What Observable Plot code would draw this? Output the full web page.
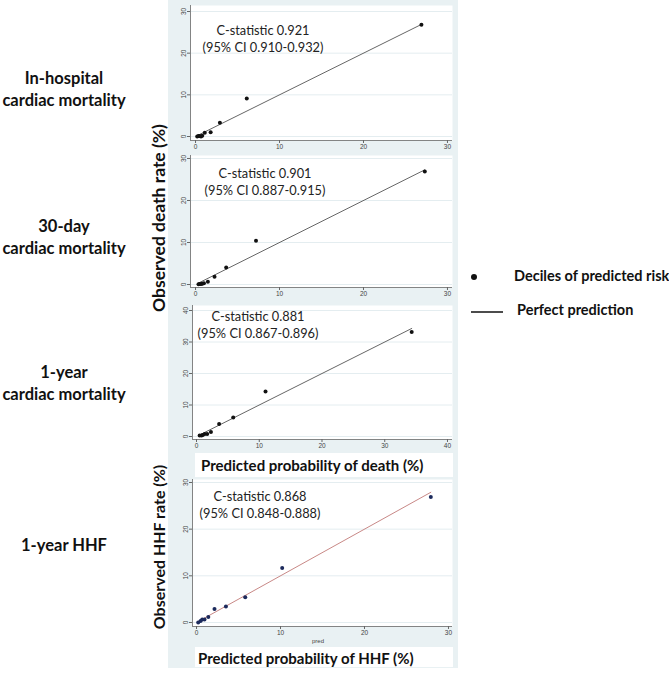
<!DOCTYPE html>
<html><head><meta charset="utf-8">
<script src="https://cdn.jsdelivr.net/npm/d3@7"></script>
<script src="https://cdn.jsdelivr.net/npm/@observablehq/plot@0.6"></script>
<style>
body{margin:0;background:#fff;}
#wrap{position:relative;width:669px;height:673px;font-family:Lato,"Open Sans",sans-serif;overflow:hidden;}
.abs{position:absolute;}
.bg{left:168px;top:0;width:290px;height:668px;background:#e9f1f3;}
.row{font-weight:bold;font-size:16.5px;color:#111;text-align:center;width:128px;left:0;line-height:22px;white-space:pre;}
.ytitle{font-weight:bold;color:#111;white-space:nowrap;transform:translate(-50%,-50%) rotate(-90deg);}
.xbox{left:195px;width:258px;background:#fff;}
.xtitle{font-weight:bold;font-size:15px;color:#111;white-space:nowrap;}
.cstat{font-size:12.8px;color:#222;text-align:center;line-height:17px;white-space:pre;transform:translateX(-50%);}
.leg{font-weight:bold;font-size:14.5px;color:#111;white-space:nowrap;}
.pred{font-size:6px;color:#444;transform:translateX(-50%);font-family:"Liberation Sans",Arial,sans-serif;}
.panel{left:168px;}
</style></head>
<body><div id="wrap"></div>
<script>
// ---- data ----
const outcomes = ["In-hospital\ncardiac mortality", "30-day\ncardiac mortality", "1-year\ncardiac mortality", "1-year HHF"];
const cstat = ["0.921", "0.901", "0.881", "0.868"];
const ci95 = ["0.910-0.932", "0.887-0.915", "0.867-0.896", "0.848-0.888"];
const pred1 = [0.2, 0.35, 0.5, 0.65, 0.8, 1.1, 1.8, 2.9, 6.1, 26.9];
const obs1  = [0.0, 0.1, 0.1, 0.0, 0.2, 0.9, 1.0, 3.3, 9.1, 26.8];
const pred2 = [0.35, 0.5, 0.65, 0.8, 1.0, 1.47, 2.26, 3.65, 7.2, 27.3];
const obs2  = [0.05, 0.1, 0.1, 0.2, 0.3, 0.64, 1.83, 4.05, 10.4, 26.9];
const pred3 = [0.5, 0.8, 1.0, 1.3, 1.7, 2.3, 3.6, 5.85, 11.0, 34.3];
const obs3  = [0.3, 0.3, 0.5, 0.8, 0.8, 1.4, 4.0, 6.0, 14.3, 33.2];
const pred4 = [0.2, 0.48, 0.68, 0.95, 1.4, 2.14, 3.5, 5.8, 10.2, 27.9];
const obs4  = [0.0, 0.3, 0.65, 0.65, 1.15, 2.9, 3.4, 5.4, 11.7, 26.9];
const ticks30 = [0, 10, 20, 30];
const ticks40 = [0, 10, 20, 30, 40];
const yTitleDeath = "Observed death rate (%)";
const yTitleHHF = "Observed HHF rate (%)";
const xTitleDeath = "Predicted probability of death (%)";
const xTitleHHF = "Predicted probability of HHF (%)";
const xVarName = "pred";
const legendDot = "Deciles of predicted risk";
const legendLine = "Perfect prediction";

// ---- layout ----
const wrap = document.getElementById("wrap");
function el(cls, css, text) {
  const d = document.createElement("div");
  d.className = "abs " + cls;
  Object.assign(d.style, css);
  if (text != null) d.textContent = text;
  wrap.appendChild(d);
  return d;
}
el("bg", {});

const panels = [
  {pred: pred1, obs: obs1, ticksX: ticks30, ticksY: ticks30, top: 0, height: 155, mt: 5, mb: 15, ml: 22,
   xDom: [-0.6, 30.6], yDom: [-0.96, 31.44], dot: "#111", line: "#555", cx: 263, cy: 31},
  {pred: pred2, obs: obs2, ticksX: ticks30, ticksY: ticks30, top: 152, height: 152, mt: 3, mb: 17, ml: 22,
   xDom: [-0.6, 30.6], yDom: [-0.71, 30.71], dot: "#111", line: "#555", cx: 265, cy: 174},
  {pred: pred3, obs: obs3, ticksX: ticks40, ticksY: ticks40, top: 302, height: 152, mt: 3, mb: 15, ml: 24,
   xDom: [-0.64, 40.8], yDom: [-0.95, 41.59], dot: "#111", line: "#555", cx: 258, cy: 317},
  {pred: pred4, obs: obs4, ticksX: ticks30, ticksY: ticks30, top: 476, height: 170, mt: 3, mb: 20, ml: 24,
   xDom: [-0.48, 30.48], yDom: [-0.86, 30.64], dot: "#1c2a5c", line: "#c27a78", cx: 260, cy: 497}
];

panels.forEach((p, i) => {
  const data = p.pred.map((x, j) => ({x, y: p.obs[j]}));
  const ext = d3.extent(p.pred);
  const chart = Plot.plot({
    width: 290, height: p.height,
    marginLeft: p.ml, marginRight: 6, marginTop: p.mt, marginBottom: p.mb,
    style: {background: "transparent", fontFamily: "'Liberation Sans', Arial, sans-serif", color: "#444", overflow: "visible"},
    x: {domain: p.xDom},
    y: {domain: p.yDom},
    marks: [
      Plot.frame({fill: "white", stroke: null}),
      Plot.gridY(p.ticksY, {stroke: "#e4edf0", strokeOpacity: 1, strokeWidth: 1}),
      Plot.ruleX([p.xDom[0]], {stroke: "#666", strokeWidth: 0.8}),
      Plot.ruleY([p.yDom[0]], {stroke: "#666", strokeWidth: 0.8}),
      Plot.axisX(p.ticksX, {tickSize: 3, tickPadding: 1, fontSize: 6.5, label: null, stroke: "#666"}),
      Plot.axisY(p.ticksY, {tickSize: 3, tickPadding: 2, fontSize: 6.5, label: null, tickRotate: -90, stroke: "#666"}),
      Plot.line(ext, {x: d => d, y: d => d, stroke: p.line, strokeWidth: 0.9}),
      Plot.dot(data, {x: "x", y: "y", r: 2, fill: p.dot, stroke: null})
    ]
  });
  chart.classList.add("abs", "panel");
  chart.style.top = p.top + "px";
  wrap.appendChild(chart);
  el("cstat", {left: p.cx + "px", top: (p.cy - 9) + "px"}, "C-statistic " + cstat[i] + "\n(95% CI " + ci95[i] + ")");
});

// row labels
[[78, 0], [226, 1], [372, 2], [545, 3]].forEach(([y, i]) => {
  el("row", {top: (y - 11) + "px"}, outcomes[i]);
});

// y titles
el("ytitle", {left: "158px", top: "218px", fontSize: "17.5px"}, yTitleDeath);
el("ytitle", {left: "158px", top: "547px", fontSize: "16px"}, yTitleHHF);

// x title boxes
el("xbox", {top: "453px", height: "24px"});
el("xtitle", {left: "201px", top: "456px"}, xTitleDeath);
el("xbox", {top: "647px", height: "20px"});
el("xtitle", {left: "198px", top: "649px"}, xTitleHHF);
el("pred", {left: "318px", top: "638px"}, xVarName);

// legend
const leg = d3.select(wrap).append("svg").attr("class", "abs").style("left", "460px").style("top", "265px")
  .attr("width", 60).attr("height", 60);
leg.append("circle").attr("cx", 14).attr("cy", 12).attr("r", 3).attr("fill", "#111");
leg.append("line").attr("x1", 11).attr("x2", 43).attr("y1", 47).attr("y2", 47).attr("stroke", "#111").attr("stroke-width", 1.5);
el("leg", {left: "514px", top: "267px"}, legendDot);
el("leg", {left: "517px", top: "301px"}, legendLine);
</script></body></html>
